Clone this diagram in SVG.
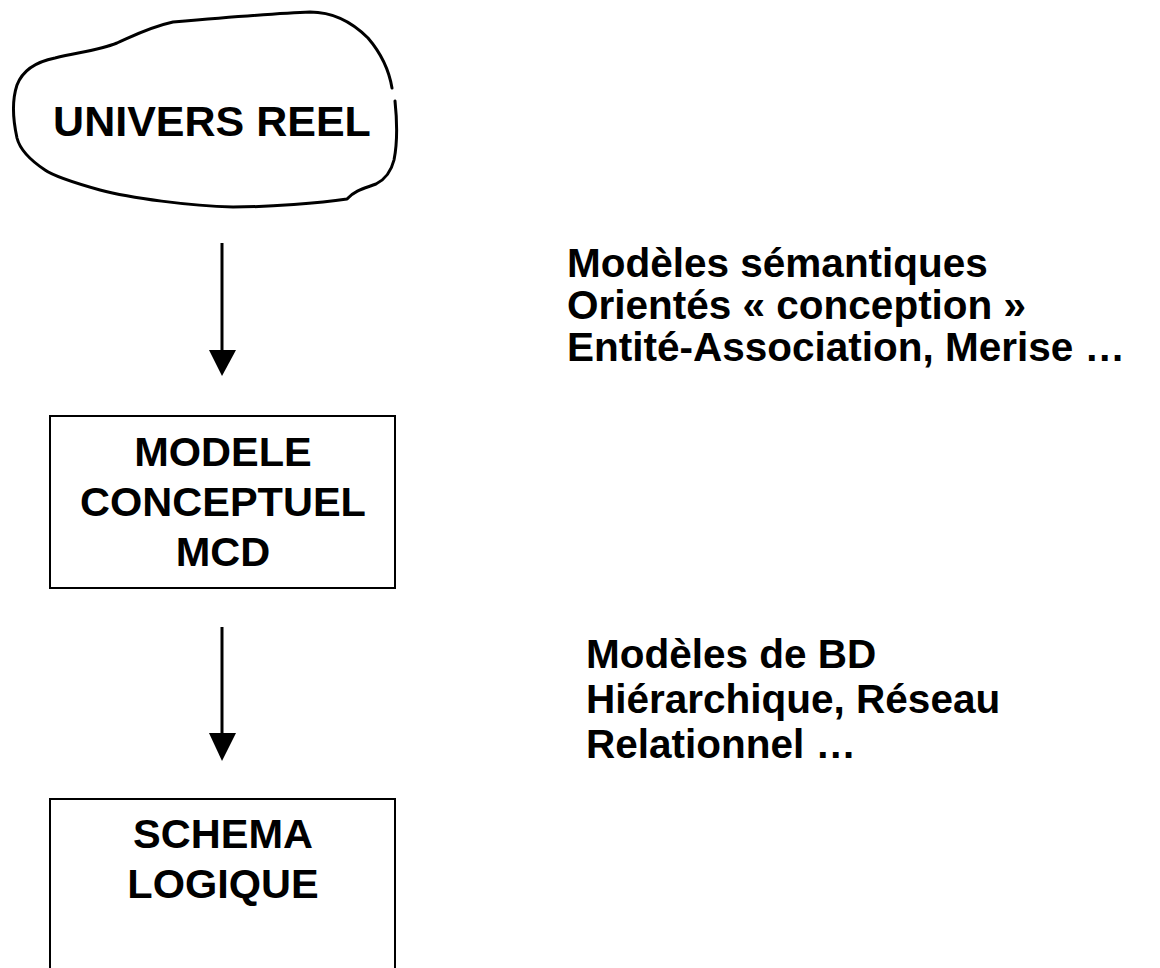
<svg xmlns="http://www.w3.org/2000/svg" width="1160" height="968" viewBox="0 0 1160 968">
<style>
text{font-family:"Liberation Sans",Arial,sans-serif;font-weight:bold;fill:#000;font-size:40.5px}
.c{text-anchor:middle;font-size:41.5px}
.box{fill:#fff;stroke:#000;stroke-width:2}
.blob{fill:none;stroke:#000;stroke-width:3;stroke-linejoin:round;stroke-linecap:round}
.conn{stroke:#000;stroke-width:3}
</style>
<rect width="1160" height="968" fill="#fff"/>
<g id="univers-reel">
<path class="blob" d="M395,101 C397,120 398,140 394,160 C391,172 384,180 376,184 C366,188 355,190 347,199 C320,203 270,207 233,207 C190,206 130,198 100,190 C75,183 55,177 45,170 C30,160 20,150 17,138 C13,120 12,100 17,85 C22,72 35,62 55,58 C80,52 100,50 117,43 C135,35 150,27 173,22 C220,18 280,13 310,12 C335,12 355,25 368,38 C380,52 389,70 392,88"/>
<text class="c" x="212" y="136" style="font-size:43px">UNIVERS REEL</text>
</g>
<g id="modele-conceptuel">
<rect class="box" x="50" y="416" width="345" height="172"/>
<text class="c" x="223" y="466">MODELE</text>
<text class="c" x="223" y="516">CONCEPTUEL</text>
<text class="c" x="223" y="566">MCD</text>
</g>
<g id="schema-logique">
<rect class="box" x="50" y="799" width="345" height="200"/>
<text class="c" x="223" y="848">SCHEMA</text>
<text class="c" x="223" y="898">LOGIQUE</text>
</g>
<g id="connectors">
<line class="conn" x1="222" y1="243" x2="222" y2="352"/>
<polygon points="209,350 236,350 222,376" fill="#000"/>
<line class="conn" x1="222" y1="627" x2="222" y2="735"/>
<polygon points="209,733 236,733 222,761" fill="#000"/>
</g>
<g id="labels">
<text x="567" y="277">Modèles sémantiques</text>
<text x="567" y="319">Orientés « conception »</text>
<text x="567" y="361">Entité-Association, Merise …</text>
<text x="586" y="668">Modèles de BD</text>
<text x="586" y="713">Hiérarchique, Réseau</text>
<text x="586" y="758">Relationnel …</text>
</g>
</svg>
